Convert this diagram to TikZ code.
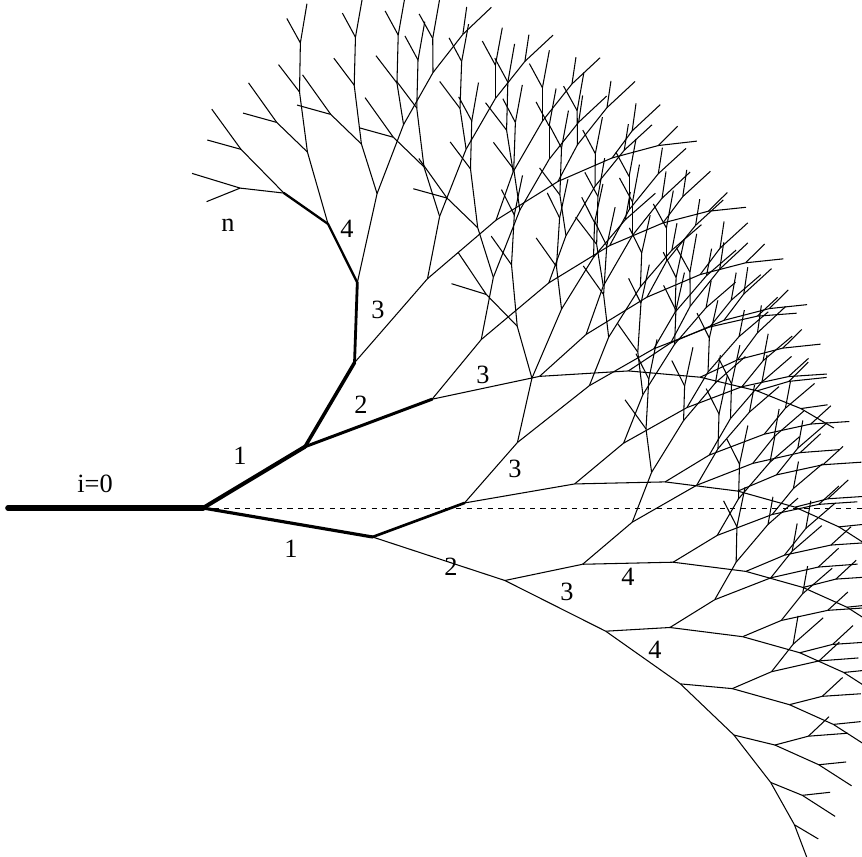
\documentclass[tikz,border=0pt]{standalone}
\usepackage{fontspec}
\setmainfont{Liberation Serif}
\usetikzlibrary{calc}

\tikzset{
  twigline/.style={line width=0.6pt},
  mainpath/.style={line width=#1, line cap=round},
  genlabel/.style={font=\fontsize{15}{18}\selectfont, inner sep=0pt}
}

% one segment and, while the cost stays low, its two children
% #1,#2 start, #3 length, #4 angle, #5 side (L/R), #6 cost, #7 name
% a left step costs 10, a right step 8
\newcommand\growtwig[7]{%
  \pgfmathsetmacro\ex{#1+#3*cos(#4)}%
  \pgfmathsetmacro\ey{#2-#3*sin(#4)}%
  \draw[twigline] (#1,#2) -- (\ex,\ey) coordinate (n#7);%
  \ifnum#6<66
    \if#5L
      \pgfmathsetmacro\la{#4+28.5}\pgfmathsetmacro\ll{#3*0.82}%
      \pgfmathsetmacro\ra{#4-10.5}\pgfmathsetmacro\rl{#3*1.14}%
    \else
      \pgfmathsetmacro\la{#4+30}\pgfmathsetmacro\ll{#3*0.57}%
      \pgfmathsetmacro\ra{#4-8.5}\pgfmathsetmacro\rl{#3*0.81}%
    \fi
    \edef\nexttwig{%
      \noexpand\growtwig{\ex}{\ey}{\ll}{\la}{L}{\the\numexpr#6+10\relax}{#7L}%
      \noexpand\growtwig{\ex}{\ey}{\rl}{\ra}{R}{\the\numexpr#6+8\relax}{#7R}}%
    \nexttwig
  \fi}

\begin{document}
\begin{tikzpicture}[x=0.02cm, y=-0.02cm]
  \clip (0,0) rectangle (862,856);
  \fill[white] (0,0) rectangle (862,856);

  % trunk and the two subtrees
  \coordinate (o) at (8,508);
  \coordinate (n) at (203,508);
  \coordinate (edge) at (862,508);
  \growtwig{203}{508}{119}{31}{L}{10}{L}
  \growtwig{203}{508}{172}{-9.7}{R}{8}{R}

  \draw[dashed, line width=0.5pt] (n) -- (edge);

  % highlighted pathway
  \draw[mainpath=3.2pt] (o) -- (n);
  \draw[mainpath=2.3pt] (n) -- (nL);
  \draw[mainpath=1.8pt] (n) -- (nR);
  \draw[mainpath=2pt] (nL) -- (nLL);
  \draw[mainpath=1.7pt] (nL) -- (nLR);
  \draw[mainpath=1.5pt] (nR) -- (nRL);
  \draw[mainpath=1.6pt] (nLL) -- (nLLL);
  \draw[mainpath=1.3pt] (nLLL) -- (nLLLL);
  \draw[mainpath=1.3pt] (nLLLL) -- (nLLLLL);

  % generation labels
  \node[genlabel] at (95,484) {i=0};
  \node[genlabel] at (240,456) {1};
  \node[genlabel] at (291,549) {1};
  \node[genlabel] at (361,405) {2};
  \node[genlabel] at (451,567) {2};
  \node[genlabel] at (378,310) {3};
  \node[genlabel] at (483,375) {3};
  \node[genlabel] at (515,469) {3};
  \node[genlabel] at (567,592) {3};
  \node[genlabel] at (347,229) {4};
  \node[genlabel] at (628,577) {4};
  \node[genlabel] at (655,650) {4};
  \node[genlabel] at (228,225) {n};
\end{tikzpicture}
\end{document}
